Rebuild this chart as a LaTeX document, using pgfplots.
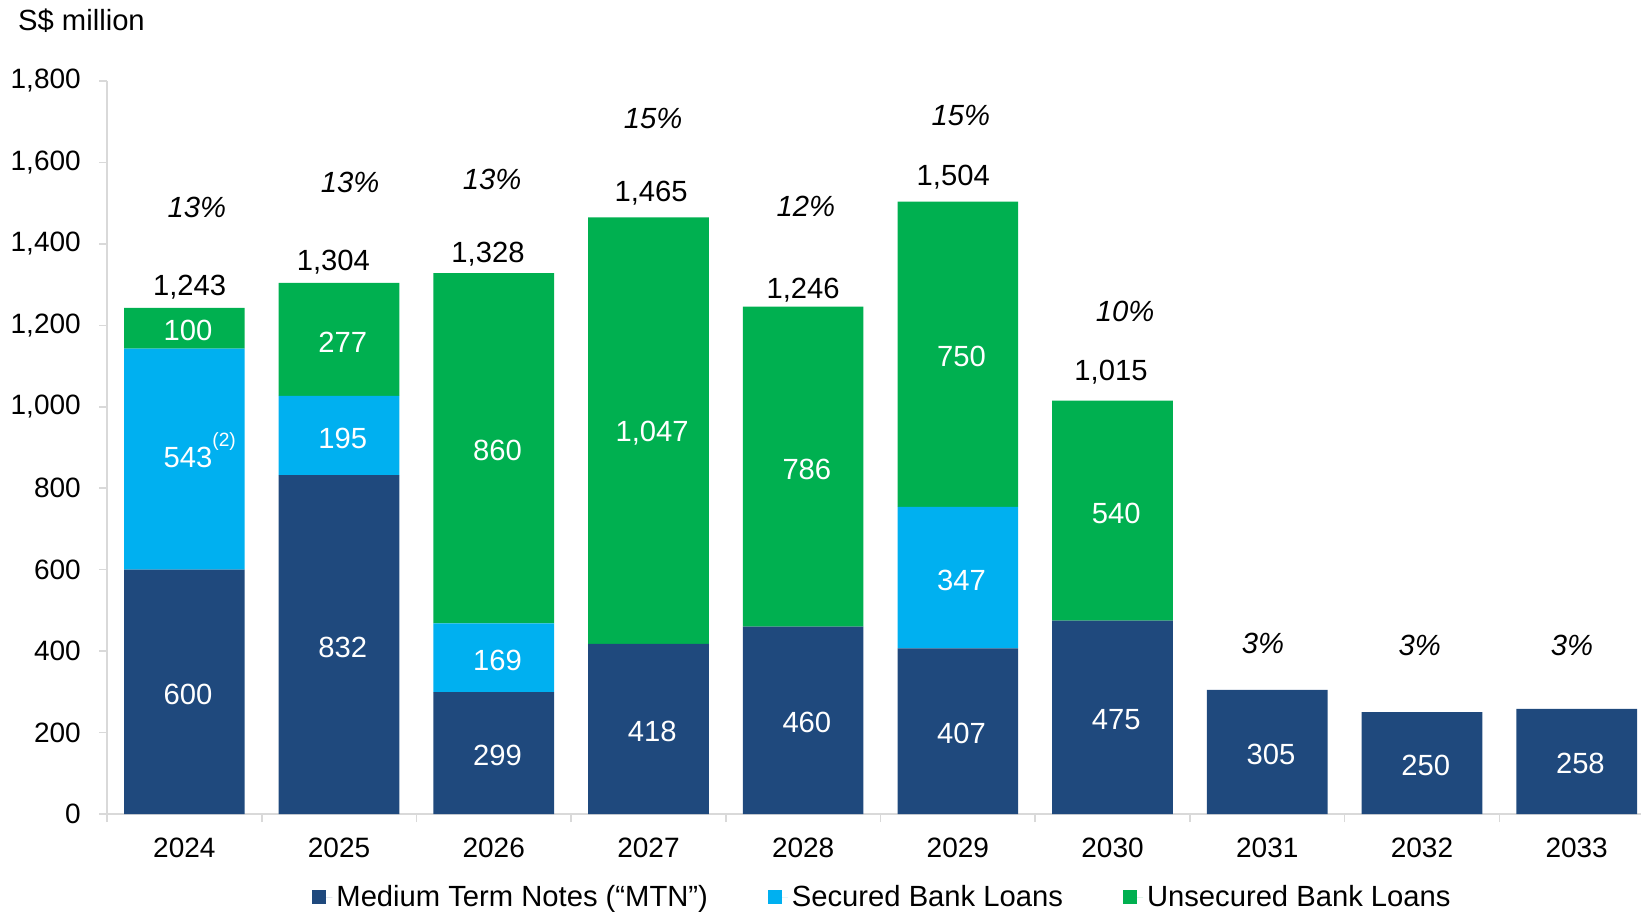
\documentclass[border=0pt]{standalone}
\usepackage{fontspec}
\setmainfont{Liberation Sans}
\usepackage{pgfplots}
\pgfplotsset{compat=1.18}
\definecolor{mtn}{HTML}{1F497D}
\definecolor{sec}{HTML}{00B0F0}
\definecolor{unsec}{HTML}{00B050}
\definecolor{axgray}{HTML}{D9D9D9}
\newcommand{\fs}{\fontsize{14}{16.8}\selectfont}
\newcommand{\fl}{\fontsize{14.6}{17.5}\selectfont}
\newcommand{\supnote}{\rlap{\smash{\raisebox{10.5pt}{\fontsize{9.6}{10}\selectfont(2)}}}}
\begin{document}
\begin{tikzpicture}
\pgfplotsset{
  common/.style={
    scale only axis, width=767pt, height=366.5pt,
    at={(0,0)}, anchor=south west,
    xmin=-0.5, xmax=9.416, ymin=0, ymax=1800,
  },
  sq/.style={legend image code/.code={\path (0pt,0pt) -- (10pt,0pt); \fill[##1] (0pt,-3.5pt) rectangle (7pt,3.5pt);}},
}
\begin{axis}[common,
  ybar stacked, bar width=0.78,
  axis lines*=left,
  axis line style={axgray, line width=0.8pt},
  tick style={axgray, line width=0.8pt},
  tick align=outside,
  major tick length=4pt,
  xtick={-0.5,0.5,...,8.5}, xticklabels={},
  ytick={0,200,...,1800},
  tick label style={font=\fs, text=black},
  yticklabel style={xshift=-5.6pt},
  /pgf/number format/1000 sep={,},
  /pgf/number format/assume math mode=true,
  legend style={at={(0.5062,0)}, anchor=center, yshift=-41.5pt, draw=none, fill=none,
    font=\fl, nodes={inner sep=2pt},
    /tikz/every even column/.append style={column sep=28pt}},
  legend columns=3,
]
\addplot[fill=mtn, draw=none, sq] coordinates {(0,600) (1,832) (2,299) (3,418) (4,460) (5,407) (6,475) (7,305) (8,250) (9,258)};
\addplot[fill=sec, draw=none, sq] coordinates {(0,543) (1,195) (2,169) (3,0) (4,0) (5,347) (6,0) (7,0) (8,0) (9,0)};
\addplot[fill=unsec, draw=none, sq] coordinates {(0,100) (1,277) (2,860) (3,1047) (4,786) (5,750) (6,540) (7,0) (8,0) (9,0)};
\legend{Medium Term Notes (“MTN”), Secured Bank Loans, Unsecured Bank Loans}
\end{axis}
\begin{axis}[common,
  axis line style={draw=none},
  tick style={draw=none},
  ytick=\empty,
  xtick={0,...,9},
  xticklabels={2024,2025,2026,2027,2028,2029,2030,2031,2032,2033},
  tick label style={font=\fs, text=black},
  xticklabel style={yshift=-8.2pt},
  clip=false,
]
% segment labels
\addplot[only marks, mark=none, nodes near coords, point meta=explicit symbolic,
  nodes near coords style={anchor=center, font=\fl, text=white}] coordinates {
  (0.024,294) [600] (0.024,876) [543\supnote] (0.024,1187) [100]
  (1.024,410) [832] (1.024,923) [195] (1.024,1159) [277]
  (2.024,143) [299] (2.024,377) [169] (2.024,892) [860]
  (3.024,203) [418] (3.024,935) [{1,047}]
  (4.024,224) [460] (4.024,847) [786]
  (5.024,197) [407] (5.024,574) [347] (5.024,1123) [750]
  (6.024,231) [475] (6.024,739) [540]
  (7.024,146) [305] (8.024,119) [250] (9.024,123) [258]
};
% totals
\addplot[only marks, mark=none, nodes near coords, point meta=explicit symbolic,
  nodes near coords style={anchor=center, font=\fl, text=black}] coordinates {
  (0.034,1294) [{1,243}] (0.963,1356) [{1,304}] (1.963,1374) [{1,328}]
  (3.017,1525) [{1,465}] (4.0,1287) [{1,246}] (4.97,1564) [{1,504}] (5.99,1086) [{1,015}]
};
% percentages
\addplot[only marks, mark=none, nodes near coords, point meta=explicit symbolic,
  nodes near coords style={anchor=center, font=\fl\itshape, text=black}] coordinates {
  (0.081,1490) [13\%] (1.071,1551) [13\%] (1.99,1559) [13\%] (3.03,1708) [15\%]
  (4.017,1492) [12\%] (5.02,1716) [15\%] (6.081,1235) [10\%] (6.973,418) [3\%]
  (7.986,415) [3\%] (8.97,415) [3\%]
};
\end{axis}
\node[anchor=west, font=\fl, inner sep=0pt] at (-44.6pt,396.5pt) {S\$ million};
\pgfresetboundingbox
\useasboundingbox (-53.5pt,-48.5pt) rectangle (767pt,407pt);
\end{tikzpicture}
\end{document}
